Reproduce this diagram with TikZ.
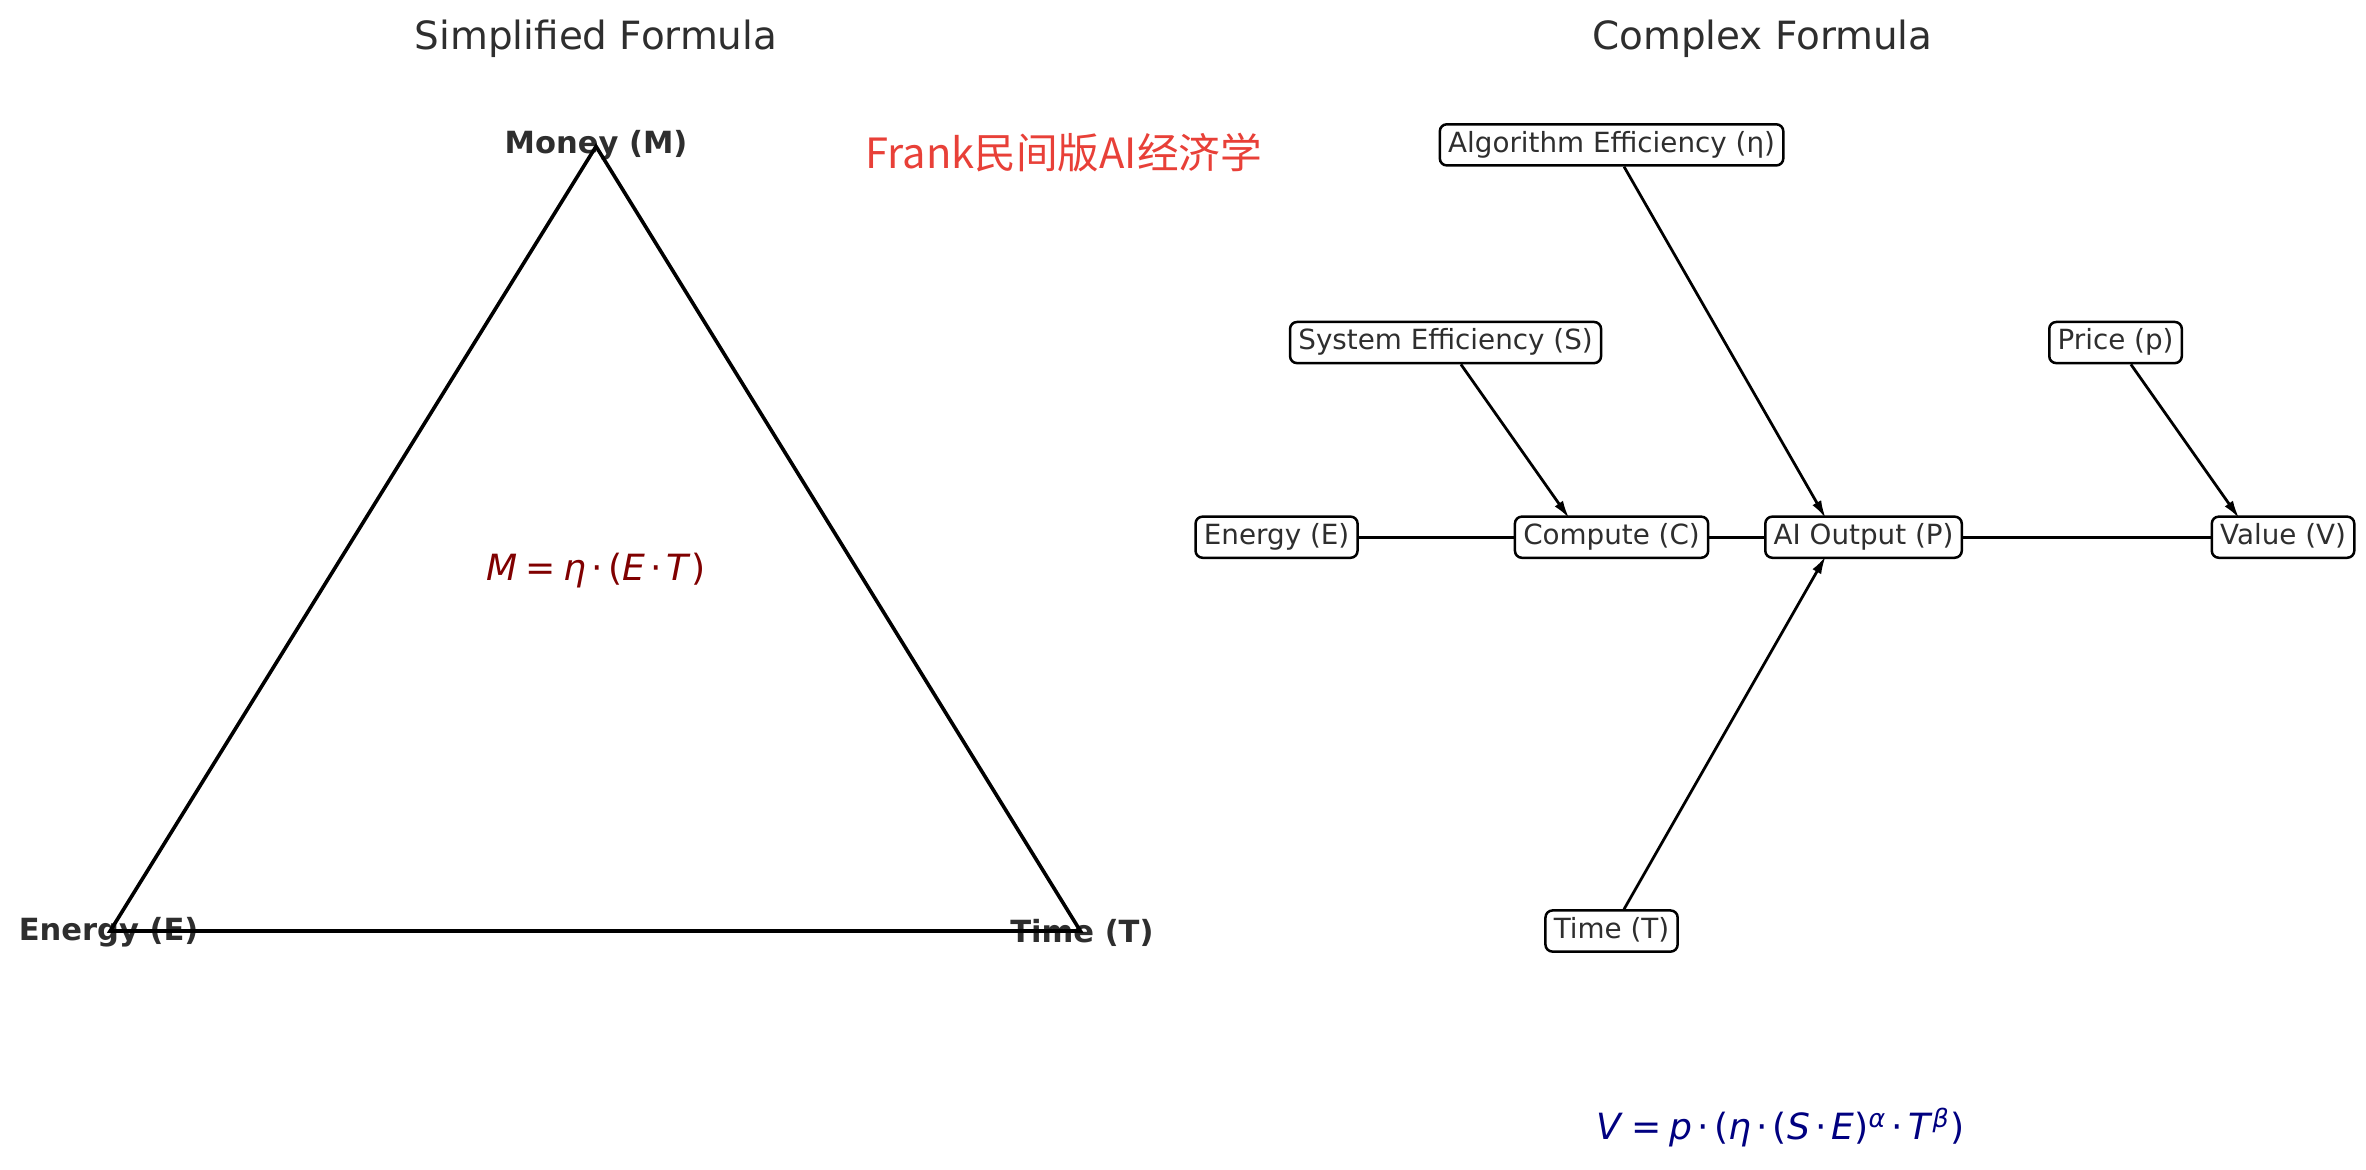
\documentclass[tikz,border=0pt]{standalone}
\usepackage{fontspec}
\setmainfont{DejaVu Sans}
\newfontfamily\cjkfont{Noto Sans CJK SC}
\usetikzlibrary{arrows.meta,calc}
\definecolor{txtgray}{rgb}{0.18,0.18,0.18}
\definecolor{frankred}{RGB}{232,64,56}
\definecolor{formred}{RGB}{128,0,0}
\definecolor{formblue}{RGB}{0,0,128}
\begin{document}
\begin{tikzpicture}[x=0.5432pt,y=-0.5432pt,
  titlestyle/.style={font=\fontsize{14}{16}\selectfont, text=txtgray},
  vertexlabel/.style={font=\fontsize{11}{13}\selectfont\bfseries, text=txtgray, inner sep=0pt},
  tri/.style={line width=1.3pt, black},
  varbox/.style={draw=black, line width=0.9pt, fill=white, rounded corners=2.5pt,
    font=\fontsize{10}{12}\selectfont, text=txtgray, inner xsep=3pt, inner ysep=2.4pt,
    text height=7.6pt, text depth=2.4pt},
  link/.style={line width=1pt, black},
  arr/.style={line width=1pt, black, -{Latex[length=6.5pt,width=3.6pt]}},
  formula/.style={font=\fontsize{13}{15}\selectfont}
]
\useasboundingbox (0,0) rectangle (1568,775);

% ---------- left panel ----------
\node[titlestyle] (t1) at (395,26) {Simplified Formula};
\node[vertexlabel] (lm) at (395,96) {Money (M)};
\node[vertexlabel] (le) at (72,618) {Energy (E)};
\node[vertexlabel] (lt) at (717,618) {Time (T)};
\coordinate (vm) at (395,97);
\coordinate (ve) at (73,617);
\coordinate (vt) at (716,617);
\draw[tri] (vm) -- (ve) -- (vt) -- cycle;
\node[formula, text=formred] (f1) at (395,378)
  {\textit{M}\hspace{0.22em}=\hspace{0.22em}\textit{η}\hspace{0.14em}·\hspace{0.14em}(\textit{E}\hspace{0.14em}·\hspace{0.14em}\textit{T})};

\node[font=\cjkfont\fontsize{15}{18}\selectfont, text=frankred] (frank) at (705,101) {Frank民间版AI经济学};

% ---------- right panel ----------
\node[titlestyle] (t2) at (1168,26) {Complex Formula};

\node[varbox] (energy)  at (846,356)  {Energy (E)};
\node[varbox] (compute) at (1068,356) {Compute (C)};
\node[varbox] (aiout)   at (1235,356) {AI Output (P)};
\node[varbox] (value)   at (1513,356) {Value (V)};
\node[varbox] (alg)     at (1068,96)  {Algorithm Efficiency (η)};
\node[varbox] (sys)     at (958,227)  {System Efficiency (S)};
\node[varbox] (price)   at (1402,227) {Price (p)};
\node[varbox] (time)    at (1068,617) {Time (T)};

\draw[link] (energy) -- (compute);
\draw[link] (compute) -- (aiout);
\draw[link] (aiout) -- (value);
\draw[arr] (alg) -- ($(aiout.north)+(-25,2)$);
\draw[arr] (time) -- ($(aiout.south)+(-25,-2)$);
\draw[arr] (sys) -- ($(compute.north)+(-28,2)$);
\draw[arr] (price) -- ($(value.north)+(-29,2)$);

\node[formula, text=formblue] (f2) at (1180,747)
  {\textit{V}\hspace{0.22em}=\hspace{0.22em}\textit{p}\hspace{0.14em}·\hspace{0.14em}(\textit{η}\hspace{0.14em}·\hspace{0.14em}(\textit{S}\hspace{0.14em}·\hspace{0.14em}\textit{E})\textsuperscript{\textit{α}}\hspace{0.14em}·\hspace{0.14em}\textit{T}\textsuperscript{\textit{β}})};
\end{tikzpicture}
\end{document}
